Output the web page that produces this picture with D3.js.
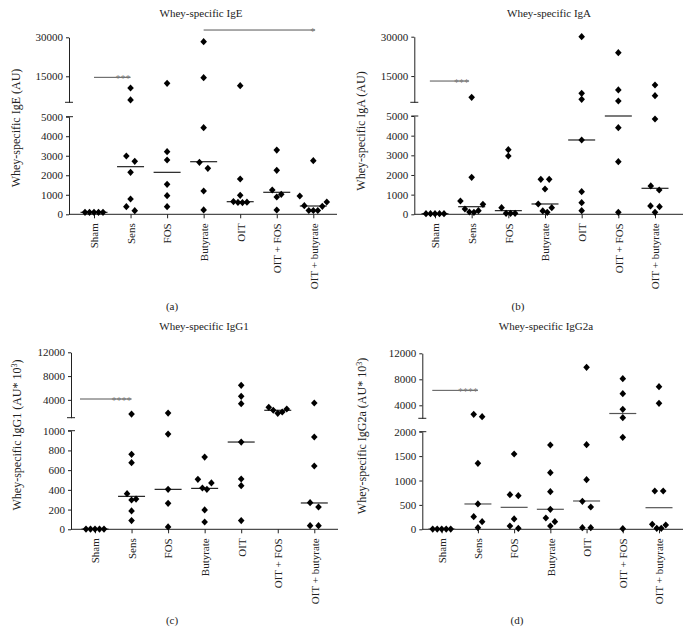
<!DOCTYPE html>
<html><head><meta charset="utf-8">
<script src="https://cdn.jsdelivr.net/npm/d3@7"></script>
<style>
body{margin:0;background:#fff}
text{font-family:"Liberation Serif","Times New Roman",serif;fill:#222}
</style>
</head><body>
<svg id="chart" width="691" height="642"></svg>
<script>
// ---------- DATA ----------
const groups = ["Sham","Sens","FOS","Butyrate","OIT","OIT + FOS","OIT + butyrate"];

// (a) Whey-specific IgE (AU)
const igeValues = [
  [100,100,100,100,100],
  [10500,5900,2986,2713,2150,785,392,188],
  [12300,3207,2781,1535,955,392],
  [28330,14487,4436,2661,2354,1194,222],
  [11410,1808,973,650,620,610,600],
  [3292,2252,1245,1024,886,220],
  [2747,937,630,440,410,195,195,195]
];
const igeMedians = [100,2440,2150,2695,646,1127,425];
const igeLowerTicks = [0,1000,2000,3000,4000,5000];
const igeUpperTicks = [15000,30000];
const igeSig = [{from:0,to:1,value:14600,label:"***"},{from:3,to:6.05,value:32800,label:"*"}];

// (b) Whey-specific IgA (AU)
const igaValues = [
  [30,30,30,30,30],
  [6900,1882,676,508,270,183,117,102],
  [3288,2966,336,50,50,50],
  [1780,1780,1288,525,339,170,100],
  [30000,8430,6140,3780,1153,593,186],
  [23900,9700,5500,4407,2678,100],
  [11600,7540,4848,1441,1237,424,390,100]
];
const igaMedians = [30,387,186,525,3780,5000,1322];
const igaLowerTicks = [0,1000,2000,3000,4000,5000];
const igaUpperTicks = [15000,30000];
const igaSig = [{from:-0.14,to:0.93,value:13100,label:"***"}];

// (c) Whey-specific IgG1 (AU* 10^3)
const igg1Values = [
  [2,2,2,2,2],
  [1617,760,676,361,307,297,186,88],
  [1785,966,405,263,24],
  [733,507,470,419,405,196,74],
  [6450,4600,3355,885,510,442,88],
  [2750,2460,2250,1960,1740],
  [3470,936,642,270,226,37,37]
];
const igg1Medians = [2,334,405,415,885,2245,267];
const igg1LowerTicks = [0,200,400,600,800,1000];
const igg1UpperTicks = [4000,8000,12000];
const igg1Sig = [{from:-0.41,to:1,value:4145,label:"****"}];

// (d) Whey-specific IgG2a (AU* 10^3)
const igg2aValues = [
  [4,4,4,4,4],
  [2615,2256,1352,519,259,157,34],
  [1543,710,689,212,68,20],
  [1727,1160,771,410,232,157,68],
  [9846,1734,1016,574,457,33,33],
  [8090,5785,3385,2092,1885,12],
  [6862,4308,785,785,102,88,20,20]
];
const igg2aMedians = [4,519,450,410,580,2738,443];
const igg2aLowerTicks = [0,500,1000,1500,2000];
const igg2aUpperTicks = [4000,8000,12000];
const igg2aSig = [{from:-0.26,to:1,value:6300,label:"****"}];

// ---------- PANELS ----------
const panels = [
  {title:"Whey-specific IgE", ylab:["Whey-specific IgE (AU)","",""], cap:"(a)",
   values:igeValues, medians:igeMedians, lowTicks:igeLowerTicks, upTicks:igeUpperTicks,
   breakAt:5000, top:30000, sig:igeSig, medColor:"#222",
   L:{axisX:69, xFirst:94, xLast:313.3, xEnd:337, y0:214.3, yBL:116.7, yBH:102.3, yTop:37.3,
      tX:201, tY:17, lX:16, lY:128, cX:172, cY:310}},
  {title:"Whey-specific IgA", ylab:["Whey-specific IgA (AU)","",""], cap:"(b)",
   values:igaValues, medians:igaMedians, lowTicks:igaLowerTicks, upTicks:igaUpperTicks,
   breakAt:5000, top:30000, sig:igaSig, medColor:"#222",
   L:{axisX:414.3, xFirst:435, xLast:655, xEnd:683, y0:214.3, yBL:116, yBH:102.3, yTop:36.7,
      tX:549, tY:17, lX:361, lY:131, cX:518, cY:310}},
  {title:"Whey-specific IgG1", ylab:["Whey-specific IgG1 (AU* 10","3",")"], cap:"(c)",
   values:igg1Values, medians:igg1Medians, lowTicks:igg1LowerTicks, upTicks:igg1UpperTicks,
   breakAt:1000, top:12000, sig:igg1Sig, medColor:"#222",
   L:{axisX:71, xFirst:95, xLast:314.3, xEnd:338, y0:529.3, yBL:430.7, yBH:417.7, yTop:352.3,
      tX:204, tY:330, lX:17, lY:435, cX:172, cY:624}},
  {title:"Whey-specific IgG2a", ylab:["Whey-specific IgG2a (AU* 10","3",")"], cap:"(d)",
   values:igg2aValues, medians:igg2aMedians, lowTicks:igg2aLowerTicks, upTicks:igg2aUpperTicks,
   breakAt:2000, top:12000, sig:igg2aSig, medColor:"#555",
   L:{axisX:422.3, xFirst:441.7, xLast:659, xEnd:683, y0:529.3, yBL:431.7, yBH:418.3, yTop:353.3,
      tX:546, tY:330, lX:362, lY:436, cX:517, cY:624}}
];

const svg = d3.select("#chart");
const diamond = "M0,-3.6L3.3,0L0,3.6L-3.3,0Z";

// spread overlapping points horizontally (scatter-dot layout)
function spread(vals, y) {
  const pts = vals.map(v => ({v, y:y(v)})).sort((a,b) => a.y - b.y);
  const clusters = [];
  pts.forEach(p => {
    const c = clusters[clusters.length-1];
    if (c && p.y - c[c.length-1].y < 6) c.push(p); else clusters.push([p]);
  });
  clusters.forEach(c => {
    const n = c.length;
    if (n === 1) { c[0].dx = 0; return; }
    const s = n === 2 ? 8.4 : 4.5;
    const slots = d3.range(n).map(k => (k - (n-1)/2) * s)
      .sort((a,b) => Math.abs(a) - Math.abs(b) || b - a);
    const byLow = c.slice().sort((a,b) => b.y - a.y);
    byLow.forEach((p,i) => p.dx = slots[i]);
  });
  return pts;
}

panels.forEach(p => {
  const L = p.L;
  const g = svg.append("g");
  const x = d3.scalePoint().domain(groups).range([L.xFirst, L.xLast]);
  const xi = i => L.xFirst + i * x.step();
  const yLow = d3.scaleLinear().domain([0, p.breakAt]).range([L.y0, L.yBL]);
  const yHigh = d3.scaleLinear().domain([p.breakAt, p.top]).range([L.yBH, L.yTop]);
  const y = v => v <= p.breakAt ? yLow(v) : yHigh(v);

  // y axes (broken)
  [ [yLow, p.lowTicks], [yHigh, p.upTicks] ].forEach(([sc, tv]) => {
    const ax = g.append("g").attr("transform", `translate(${L.axisX},0)`)
      .style("color","#222")
      .call(d3.axisLeft(sc).tickValues(tv).tickSize(3).tickSizeOuter(0).tickFormat(d3.format("d")));
    ax.selectAll("text").style("font-size","11px");
  });
  g.append("line").attr("x1", L.axisX-4).attr("x2", L.axisX+4)
    .attr("y1", L.yBH).attr("y2", L.yBH).attr("stroke","#222");
  g.append("line").attr("x1", L.axisX-3).attr("x2", L.axisX+4)
    .attr("y1", L.yBL).attr("y2", L.yBL).attr("stroke","#222");

  // x axis
  const xa = g.append("g").attr("transform", `translate(0,${L.y0})`).style("color","#222")
    .call(d3.axisBottom(x).tickSize(4).tickSizeOuter(0));
  xa.select(".domain").remove();
  xa.selectAll("text").attr("transform","rotate(-90)").attr("text-anchor","end")
    .attr("x",-9).attr("y",0).attr("dy","0.35em").style("font-size","11px");
  g.append("line").attr("x1", L.axisX).attr("x2", L.xEnd)
    .attr("y1", L.y0).attr("y2", L.y0).attr("stroke","#222");

  // medians
  g.selectAll(".med").data(p.medians).join("line")
    .attr("x1",(d,i) => x(groups[i]) - 13.5).attr("x2",(d,i) => x(groups[i]) + 13.5)
    .attr("y1", d => y(d)).attr("y2", d => y(d))
    .attr("stroke", p.medColor).attr("stroke-width", 1.2);

  // points
  p.values.forEach((vals, i) => {
    const pts = spread(vals, y);
    g.selectAll(null).data(pts).join("path")
      .attr("d", diamond)
      .attr("transform", d => `translate(${x(groups[i]) + d.dx},${d.y})`)
      .attr("fill","#000");
  });

  // significance bars
  p.sig.forEach(s => {
    g.append("line").attr("x1", xi(s.from)).attr("x2", xi(s.to))
      .attr("y1", y(s.value)).attr("y2", y(s.value)).attr("stroke","#555").attr("stroke-width",1);
    g.append("text").attr("x", xi(s.to)).attr("y", y(s.value) + 5)
      .attr("text-anchor","end").style("font-size","10px").style("fill","#777").text(s.label);
  });

  // title
  g.append("text").attr("x", L.tX).attr("y", L.tY).attr("text-anchor","middle")
    .style("font-size","11px").text(p.title);
  // y label
  const yl = g.append("text").attr("transform", `translate(${L.lX},${L.lY}) rotate(-90)`)
    .attr("text-anchor","middle").attr("dy","0.35em").style("font-size","12px");
  yl.append("tspan").text(p.ylab[0]);
  if (p.ylab[1]) {
    yl.append("tspan").attr("baseline-shift","super").style("font-size","8px").text(p.ylab[1]);
    yl.append("tspan").text(p.ylab[2]);
  }
  // caption
  g.append("text").attr("x", L.cX).attr("y", L.cY).attr("text-anchor","middle")
    .style("font-size","11px").text(p.cap);
});
</script>
</body></html>
